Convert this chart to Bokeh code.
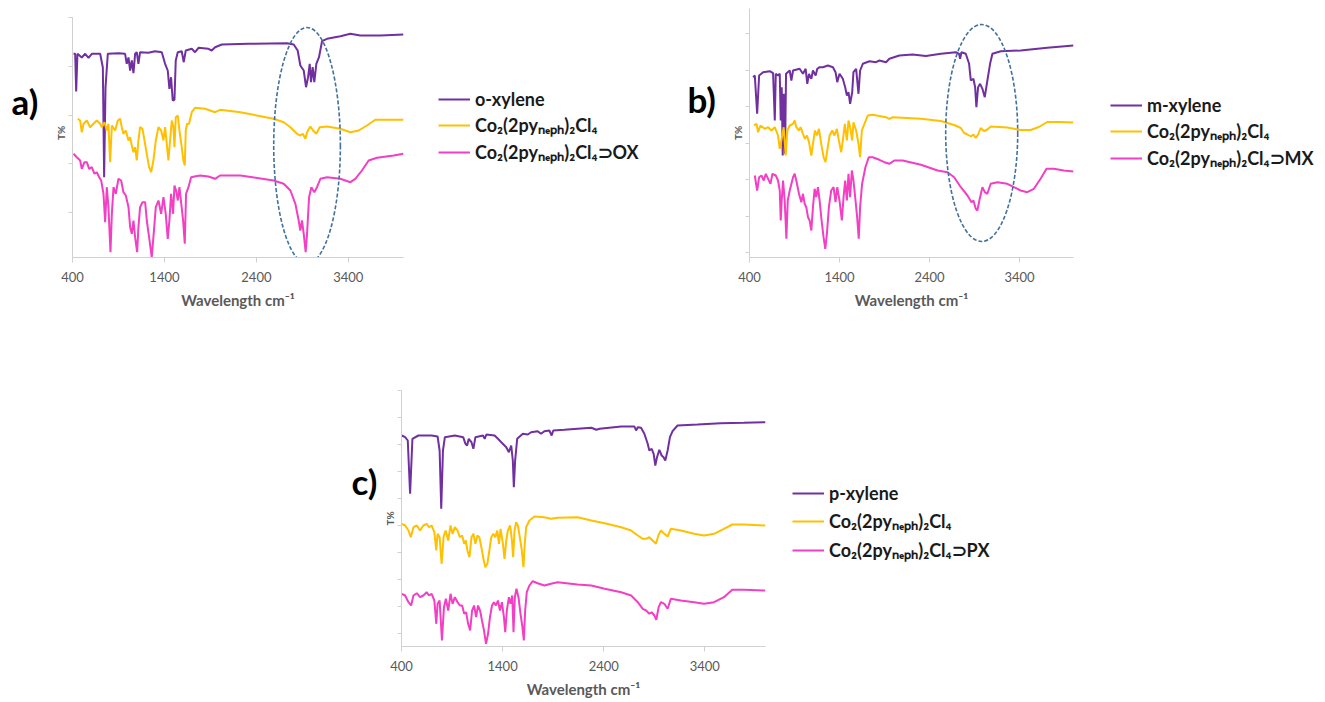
from bokeh.plotting import figure
from bokeh.models import Legend, LegendItem, Label, FixedTicker, CustomJSTickFormatter, Spacer
from bokeh.layouts import column, row
from bokeh.embed import file_html
from bokeh.resources import INLINE

# ---------------- data (wavenumber cm-1, transmittance in arbitrary offset units) ----------------
x_ticks = [400, 1400, 2400, 3400]

# Panel a
a_ox_wn = [411, 429, 440, 454, 501, 538, 574, 610, 701, 730, 744, 759, 784, 900, 972, 990, 1009, 1027, 1045, 1063,
           1081, 1099, 1117, 1135, 1226, 1299, 1371, 1407, 1436, 1454, 1472, 1490, 1509, 1523, 1545, 1588, 1610, 1632,
           1697, 1733, 1770, 1878, 1914, 1951, 2023, 2313, 2733, 2806, 2849, 2878, 2915, 2940, 2962, 2980, 2994, 3012,
           3030, 3052, 3081, 3114, 3168, 3313, 3422, 3530, 3748, 4000]
a_ox_t = [207.7, 207.7, 170, 207.7, 204, 207.7, 203.7, 207.7, 207.7, 194, 84.3, 174, 207.7, 208.3, 207.7, 197.7, 204, 191,
          201, 188.3, 207.7, 209.3, 197.7, 209.3, 208.7, 210.3, 209.3, 197.7, 191, 172.7, 184.3, 161, 161.7, 201, 209.3,
          210.3, 199.3, 211, 212.7, 209.3, 213.7, 212.7, 211, 214.3, 217, 217.7, 218.3, 217, 211, 196, 191, 174.3, 184.3,
          197.7, 179.3, 194.3, 179.3, 197.7, 204.3, 220.3, 222.7, 225.3, 227.7, 226, 226, 227]

a_co_wn = [458, 483, 501, 520, 556, 592, 628, 664, 701, 719, 748, 773, 791, 809, 828, 864, 893, 918, 936, 954, 980, 1009,
           1027, 1045, 1063, 1081, 1099, 1117, 1135, 1161, 1183, 1208, 1233, 1255, 1280, 1306, 1335, 1364, 1389, 1407,
           1429, 1443, 1461, 1480, 1498, 1509, 1523, 1545, 1563, 1588, 1606, 1621, 1632, 1646, 1668, 1697, 1733, 1842,
           1951, 2005, 2226, 2588, 2697, 2770, 2842, 2878, 2904, 2933, 2951, 2987, 3016, 3052, 3088, 3168, 3313, 3422,
           3512, 3603, 3693, 3856, 4000]
a_co_t = [142.7, 141, 129.3, 137.7, 141, 134.3, 137.7, 141, 137.7, 134.3, 139.3, 131, 137.7, 99.3, 136, 131, 141, 142.7,
          134.3, 127.7, 131, 121, 124.3, 116, 109.3, 114.3, 101, 121, 134.3, 132.7, 121, 107.7, 94.3, 89.3, 101, 121, 134.3,
          131, 121, 134.3, 114.3, 101, 121, 141, 134.3, 114.3, 144.3, 146, 131, 114.3, 101, 96, 131, 137.7, 137.7, 149.3,
          153.7, 152.7, 149.3, 151.7, 149.3, 142.7, 139.3, 134.3, 127.7, 126, 127.7, 122.7, 129.3, 135, 131, 127.7, 134.3,
          135, 132.7, 129.3, 131, 136, 141.7, 141.7, 141.7]

a_cx_wn = [411, 447, 483, 501, 530, 556, 581, 610, 639, 664, 690, 712, 737, 755, 773, 791, 813, 828, 846, 871, 900, 929,
           954, 980, 1009, 1027, 1045, 1063, 1081, 1103, 1117, 1135, 1161, 1190, 1208, 1233, 1262, 1280, 1306, 1335, 1364,
           1389, 1414, 1436, 1454, 1472, 1494, 1509, 1527, 1545, 1563, 1581, 1603, 1621, 1635, 1661, 1690, 1726, 1788,
           1878, 1951, 2005, 2226, 2588, 2697, 2770, 2824, 2860, 2878, 2896, 2915, 2936, 2951, 2973, 2998, 3030, 3059,
           3096, 3168, 3313, 3422, 3476, 3548, 3621, 3712, 3893, 4000]
a_cx_t = [107.7, 104.3, 101, 92.7, 99.3, 99.3, 92.7, 94.3, 87.7, 89.3, 84.3, 81, 67.7, 39.3, 74.3, 54.3, 9.3, 47.7, 74.3,
          67.7, 82.7, 81, 69.3, 66, 54.3, 34.3, 27.7, 41, 24.3, 9.3, 34.3, 54.3, 59.3, 59.3, 41, 24.3, 4.3, 24.3, 54.3, 61,
          47.7, 64.3, 47.7, 22.7, 41, 67.7, 47.7, 76, 71, 61, 74.3, 59.3, 41, 17.7, 67.7, 74.3, 84.3, 85, 86, 85, 82.7, 86,
          86, 81, 77.7, 71, 57.7, 41, 31, 41, 27.7, 9.3, 27.7, 64.3, 74.3, 69.3, 74.3, 82.7, 84.3, 82.7, 79.3, 82.7, 91,
          101, 103.7, 106, 107.7]

# Panel b
b_mx_wn = [441, 459, 485, 507, 551, 625, 662, 681, 692, 717, 736, 747, 758, 769, 780, 795, 806, 847, 865, 884, 957, 994,
           1024, 1042, 1061, 1087, 1105, 1135, 1153, 1179, 1216, 1271, 1327, 1356, 1375, 1400, 1437, 1463, 1482, 1500,
           1518, 1541, 1555, 1585, 1611, 1629, 1659, 1733, 1806, 1843, 1917, 1954, 2065, 2212, 2360, 2526, 2693, 2729,
           2740, 2755, 2803, 2840, 2859, 2888, 2907, 2921, 2940, 2962, 2988, 3014, 3043, 3073, 3099, 3191, 3412, 3708, 4000]
b_mx_t = [175.3, 177, 138.7, 177, 180.3, 181.3, 179.3, 132, 178.7, 177, 178.7, 132, 165.3, 97, 158.7, 98.7, 178.7, 182,
          172, 182, 183.7, 178.7, 183.7, 168.7, 178.7, 173.7, 182, 177, 183.7, 185.3, 185.3, 187, 185.3, 180.3, 170.3,
          178.7, 173.7, 165.3, 157, 160.3, 148.7, 160.3, 180.3, 183.7, 158.7, 182, 188.7, 191.3, 190.3, 192, 190.3, 193.7,
          197, 198, 196.5, 198.7, 200.3, 198.7, 193.7, 200.3, 198.7, 188.7, 172, 173.7, 165.3, 145.3, 165.3, 168.7, 163.7,
          155.3, 172, 188.7, 198.7, 201.3, 202, 204.7, 207]

b_co_wn = [448, 478, 496, 522, 570, 607, 644, 681, 717, 736, 754, 780, 802, 821, 847, 884, 902, 920, 950, 968, 994, 1016,
           1039, 1061, 1087, 1105, 1127, 1149, 1172, 1197, 1223, 1245, 1264, 1290, 1319, 1345, 1371, 1393, 1419, 1437,
           1459, 1482, 1500, 1518, 1541, 1555, 1585, 1611, 1629, 1648, 1677, 1714, 1769, 1917, 1954, 1991, 2305, 2526,
           2674, 2748, 2785, 2822, 2859, 2888, 2914, 2940, 2969, 3006, 3043, 3080, 3265, 3412, 3523, 3615, 3708, 3855, 4000]
b_co_t = [127, 128.7, 120.3, 127, 123.7, 125.3, 122, 125.3, 117, 103.7, 112, 125.3, 97, 122, 127, 128.7, 132, 125.3, 122,
          125.3, 118.7, 113.7, 117, 110.3, 97, 108.7, 122, 117, 123.7, 108.7, 95.3, 90.3, 102, 117, 122, 117, 123.7, 112,
          100.3, 112, 128.7, 112, 132, 125.3, 112, 130.3, 122, 108.7, 95.3, 122, 128.7, 137, 137.7, 135.3, 133.7, 135.3,
          133.7, 131.5, 127.5, 124.5, 119.5, 118, 116, 118, 114.5, 118, 124.5, 121.5, 123, 126, 125, 122.5, 122.5, 125.5,
          130.5, 130.5, 130]

b_cx_wn = [459, 485, 507, 533, 559, 581, 607, 633, 655, 692, 717, 736, 747, 758, 773, 791, 810, 825, 847, 884, 902, 920,
           950, 976, 994, 1013, 1031, 1050, 1068, 1087, 1105, 1124, 1142, 1160, 1179, 1201, 1223, 1242, 1260, 1282, 1308,
           1334, 1356, 1375, 1400, 1426, 1445, 1463, 1482, 1500, 1518, 1537, 1555, 1578, 1596, 1614, 1629, 1651, 1688,
           1725, 1769, 1843, 1899, 1954, 2009, 2102, 2305, 2490, 2600, 2674, 2748, 2822, 2866, 2888, 2914, 2932, 2958,
           2988, 3014, 3043, 3080, 3154, 3265, 3339, 3412, 3486, 3560, 3634, 3700, 3781, 3892, 4000]
b_cx_t = [77, 62, 75.3, 77, 72, 78.7, 73.7, 68.7, 78.7, 77, 72, 62, 32, 52, 72, 52, 13.7, 52, 62, 75.3, 78.7, 72, 58.7,
          50.3, 58.7, 48.7, 45.3, 35.3, 32, 22, 45.3, 63.7, 55.3, 65.3, 52, 32, 15.3, 3.7, 18.7, 45.3, 62, 65.3, 50.3,
          65.3, 52, 32, 55.3, 72, 52, 78.7, 55.3, 82, 72, 52, 35.3, 13.7, 45.3, 68.7, 85.3, 95.3, 95.3, 92.7, 90.3, 88.7,
          92, 92, 87.7, 82, 80.3, 75.3, 65.3, 57, 50.3, 52, 43.7, 42, 53.7, 65.3, 60.3, 58.7, 68.7, 70.3, 68.7, 65.3, 62,
          60.3, 63.7, 73.7, 83.7, 83.7, 82, 81]

# Panel c
c_px_wn = [403, 436, 462, 485, 508, 567, 698, 757, 777, 793, 810, 829, 928, 1010, 1033, 1049, 1065, 1092, 1111, 1131,
           1206, 1223, 1239, 1321, 1354, 1387, 1436, 1462, 1485, 1501, 1511, 1524, 1544, 1600, 1649, 1682, 1747, 1780,
           1813, 1862, 1885, 1901, 2010, 2141, 2278, 2327, 2360, 2573, 2704, 2720, 2737, 2769, 2802, 2835, 2851, 2874,
           2894, 2910, 2927, 2950, 2973, 2992, 3009, 3032, 3055, 3081, 3130, 3327, 3556, 3786, 4000]
c_px_t = [211, 209.3, 206, 152.7, 207.7, 211, 211, 210, 196, 137.7, 196, 209.3, 211, 209.3, 202.7, 201, 207.7, 204.3,
          197.7, 209.3, 211, 207.7, 212, 211, 207.7, 204.3, 199.3, 194.3, 201, 186, 159.3, 186, 207.7, 212.7, 212, 214.3,
          215.3, 212.7, 215.3, 216, 211, 216, 216.7, 217.7, 218.7, 216.7, 217.7, 220, 220, 216, 219.3, 218.7, 212.7,
          202.7, 196, 197.7, 192.7, 181, 189.3, 196.7, 191, 189.3, 186, 196, 209.3, 215.3, 221, 222, 223.3, 223.7, 224.3]

c_co_wn = [403, 436, 469, 492, 518, 551, 584, 616, 649, 672, 698, 725, 744, 757, 777, 797, 816, 836, 862, 885, 905, 928,
           954, 977, 1000, 1020, 1036, 1052, 1072, 1092, 1111, 1131, 1151, 1170, 1190, 1210, 1229, 1249, 1269, 1288, 1308,
           1328, 1347, 1364, 1380, 1403, 1419, 1436, 1452, 1475, 1492, 1504, 1518, 1534, 1551, 1570, 1590, 1606, 1619,
           1633, 1665, 1715, 1813, 1878, 1944, 2141, 2278, 2409, 2573, 2671, 2737, 2786, 2819, 2851, 2884, 2917, 2940,
           2966, 2999, 3032, 3064, 3163, 3294, 3392, 3491, 3589, 3671, 3786, 4000]
c_co_t = [122.7, 121, 116, 109.3, 119.3, 121, 116, 121, 122.7, 119.3, 121, 114.3, 96, 112.7, 109.3, 82.7, 109.3, 116,
          106, 121, 112.7, 119.3, 116, 109.3, 111, 102.7, 106, 96, 89.3, 109.3, 112.7, 102.7, 111, 109.3, 99.3, 87.7,
          79.3, 82.7, 96, 109.3, 112.7, 109.3, 116, 102.7, 117.7, 102.7, 87.7, 106, 116, 121, 106, 89.3, 116, 124.3, 121,
          109.3, 96, 79.3, 102.7, 119.3, 126, 130, 129.3, 127.7, 128.7, 129.3, 126, 123.3, 119.3, 116, 111, 107.7, 107.7,
          109.3, 106, 102.7, 111, 116, 112.7, 110, 117.7, 116, 112.7, 111, 112.7, 117.7, 122, 122, 121]

c_cx_wn = [403, 436, 469, 495, 518, 551, 584, 616, 649, 672, 698, 725, 744, 757, 777, 800, 820, 839, 862, 885, 905, 928,
           954, 977, 1000, 1020, 1039, 1059, 1079, 1098, 1118, 1138, 1157, 1177, 1196, 1216, 1236, 1256, 1275, 1295, 1314,
           1334, 1354, 1374, 1393, 1413, 1426, 1442, 1462, 1478, 1495, 1508, 1521, 1537, 1557, 1577, 1596, 1610, 1623,
           1639, 1665, 1698, 1747, 1813, 1878, 1944, 2141, 2278, 2409, 2573, 2671, 2737, 2786, 2819, 2851, 2874, 2901,
           2920, 2943, 2966, 2999, 3032, 3064, 3163, 3294, 3392, 3491, 3589, 3671, 3786, 4000]
c_cx_t = [52.7, 51, 44.3, 41, 51, 53.3, 49.3, 51, 54.3, 51, 52.7, 46, 22.7, 42.7, 46, 6, 39.3, 47.7, 36, 52.7, 42.7, 49.3,
          44.3, 41, 41, 32.7, 34.3, 22.7, 16, 36, 41, 29.3, 41, 36, 26, 16, 2.7, 12.7, 29.3, 41, 44.3, 41, 46, 36, 44.3,
          29.3, 14.3, 36, 49.3, 42.7, 51, 14.3, 49.3, 57.7, 49.3, 32.7, 19.3, 6, 36, 54.3, 61, 65.3, 63.3, 61, 62.7, 64.3,
          62, 61, 57.7, 54.3, 51, 44.3, 37.7, 36, 32.7, 34.3, 31, 26.7, 39.3, 44.3, 42.7, 37.7, 47.7, 46, 44.3, 42.7, 44.3,
          49.3, 56.7, 56.7, 56]

# highlighted C-H region (dashed ellipse): centre wn, centre T, width wn, height T
a_ellipse = [2951, 116, 725, 236]
b_ellipse = [2980, 119.5, 800, 217]

labels_a = ["o-xylene", "Co\u2082(2py\u2099\u2091\u209a\u2095)\u2082Cl\u2084",
            "Co\u2082(2py\u2099\u2091\u209a\u2095)\u2082Cl\u2084\u2283OX"]
labels_b = ["m-xylene", "Co\u2082(2py\u2099\u2091\u209a\u2095)\u2082Cl\u2084",
            "Co\u2082(2py\u2099\u2091\u209a\u2095)\u2082Cl\u2084\u2283MX"]
labels_c = ["p-xylene", "Co\u2082(2py\u2099\u2091\u209a\u2095)\u2082Cl\u2084",
            "Co\u2082(2py\u2099\u2091\u209a\u2095)\u2082Cl\u2084\u2283PX"]

COLORS = ["#7030a0", "#ffc000", "#f23fc3"]
AXIS_GRAY = "#d0d0d0"
TEXT_GRAY = "#595959"
FONT = "Lato"


def blank(width, height):
    f = figure(width=width, height=height, x_range=(0, 1), y_range=(0, 1),
               x_axis_type=None, y_axis_type=None, output_backend="svg",
               toolbar_location=None, min_border=0)
    f.outline_line_color = None
    f.background_fill_color = "white"
    f.border_fill_color = "white"
    return f


def tag_fig(width, height, text, x, y):
    f = blank(width, height)
    f.add_layout(Label(x=x, y=y, x_units="screen", y_units="screen", text=text,
                       text_font=FONT, text_font_style="bold", text_font_size="35px",
                       text_color="black", text_baseline="alphabetic"))
    return f


def legend_fig(width, height, labels, series, loc, spacing):
    # legend key renderers reuse the panel's series but stay hidden (only their legend swatch is drawn)
    f = blank(width, height)
    rs = [f.line(wn, t, line_color=c, line_width=2, visible=False) for (wn, t), c in zip(series, COLORS)]
    items = [LegendItem(label=lab, renderers=[r]) for lab, r in zip(labels, rs)]
    leg = Legend(items=items, location=loc, padding=0, margin=0, spacing=spacing,
                 glyph_width=32, glyph_height=22, label_height=22, label_standoff=5,
                 inactive_fill_alpha=0,
                 label_text_font=FONT, label_text_font_style="bold", label_text_font_size="18px",
                 label_text_color="#1a1a1a", border_line_color=None, background_fill_alpha=0)
    f.add_layout(leg)
    return f


def make_panel(width, height, bl, br, bt, bb, yrange, ybounds, yticks, series, ellipse):
    p = figure(width=width, height=height, x_range=(400, 4000), y_range=yrange,
               output_backend="svg", toolbar_location=None,
               min_border_left=bl, min_border_right=br, min_border_top=bt, min_border_bottom=bb)
    p.outline_line_color = None
    p.xgrid.visible = False
    p.ygrid.visible = False
    p.background_fill_color = "white"
    p.border_fill_color = "white"

    for (wn, t), c in zip(series, COLORS):
        p.line(wn, t, line_color=c, line_width=2)
    if ellipse is not None:
        p.ellipse(x=[ellipse[0]], y=[ellipse[1]], width=[ellipse[2]], height=[ellipse[3]],
                  fill_color=None, line_color="#41719c", line_width=1.6, line_dash="4 2")

    xa = p.xaxis[0]
    xa.ticker = FixedTicker(ticks=x_ticks)
    xa.axis_label = "Wavelength cm\u207b\u00b9"
    xa.axis_label_text_font = FONT
    xa.axis_label_text_font_style = "bold"
    xa.axis_label_text_font_size = "15px"
    xa.axis_label_text_color = TEXT_GRAY
    xa.axis_label_standoff = 6
    xa.major_label_text_font = FONT
    xa.major_label_text_font_size = "13px"
    xa.major_label_text_color = TEXT_GRAY
    xa.major_label_standoff = 9
    xa.axis_line_color = AXIS_GRAY
    xa.major_tick_line_color = AXIS_GRAY
    xa.major_tick_out = 5
    xa.major_tick_in = 0
    xa.minor_tick_line_color = None

    ya = p.yaxis[0]
    ya.ticker = FixedTicker(ticks=yticks)
    ya.bounds = ybounds
    ya.formatter = CustomJSTickFormatter(code="return ''")
    ya.axis_label = "T%"
    ya.axis_label_text_font = FONT
    ya.axis_label_text_font_style = "bold"
    ya.axis_label_text_font_size = "10px"
    ya.axis_label_text_color = TEXT_GRAY
    ya.axis_label_standoff = 2
    ya.axis_line_color = AXIS_GRAY
    ya.major_tick_line_color = AXIS_GRAY
    ya.major_tick_out = 4
    ya.major_tick_in = 0
    ya.minor_tick_line_color = None
    ya.major_label_standoff = 0
    return p


ser_a = [(a_ox_wn, a_ox_t), (a_co_wn, a_co_t), (a_cx_wn, a_cx_t)]
ser_b = [(b_mx_wn, b_mx_t), (b_co_wn, b_co_t), (b_cx_wn, b_cx_t)]
ser_c = [(c_px_wn, c_px_t), (c_co_wn, c_co_t), (c_cx_wn, c_cx_t)]

# Row 1 (plot frames in a row share top 8 / bottom 257): [tag a | panel a | legend a | tag b | panel b | legend b]
ta = tag_fig(50, 340, "a)", 11, 157)
pa = make_panel(360, 340, 22, 7, 8, 83, (4, 253), (4, 244), [48.8, 97.6, 146.4, 195.2, 244], ser_a, a_ellipse)
la = legend_fig(270, 340, labels_a, ser_a, (28, 93), 3)
tb = tag_fig(48, 340, "b)", 7, 159)
pb = make_panel(352, 340, 20, 7, 8, 83, (-5, 244), (-5, 244), [0, 36.5, 73, 109.5, 146, 182.5, 219], ser_b, b_ellipse)
lb = legend_fig(245, 340, labels_b, ser_b, (30, 87), 3)

# Row 2: [spacer | tag c | panel c | legend c]
tc = tag_fig(30, 362, "c)", 1, 166)
pc = make_panel(390, 362, 19, 5, 50, 56, (0, 256), (0, 256), [13 + 27 * k for k in range(10)], ser_c, None)
lc = legend_fig(555, 362, labels_c, ser_c, (22, 84), 5)

layout = column(row(ta, pa, la, tb, pb, lb),
                row(Spacer(width=350, height=362), tc, pc, lc))
open("out.html", "w").write(file_html(layout, INLINE))
